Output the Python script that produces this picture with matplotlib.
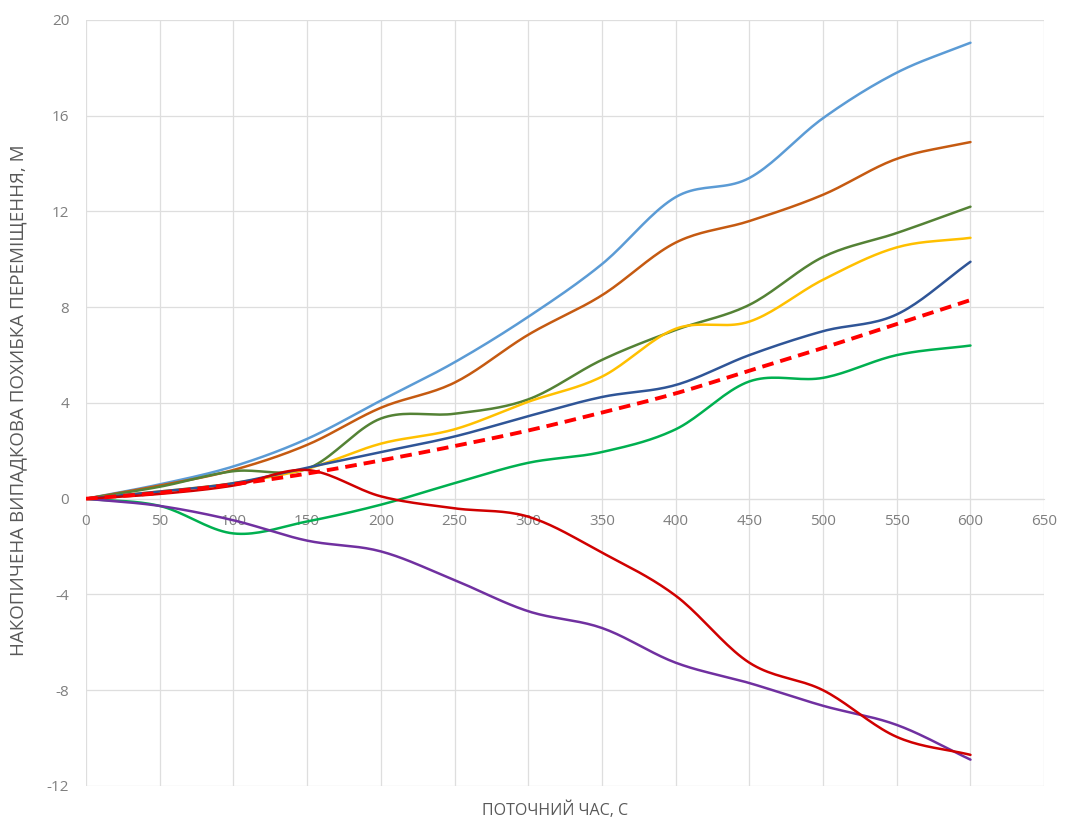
import numpy as np
import matplotlib.pyplot as plt

plt.rcParams['axes.unicode_minus'] = False

# time axis, s
t = [0, 50, 100, 150, 200, 250, 300, 350, 400, 450, 500, 550, 600]

# accumulated random displacement error, m
light_blue = [0, 0.6, 1.35, 2.5, 4.1, 5.7, 7.6, 9.8, 12.6, 13.4, 15.9, 17.8, 19.05]
orange = [0, 0.55, 1.2, 2.25, 3.8, 4.85, 6.85, 8.5, 10.7, 11.6, 12.7, 14.2, 14.9]
olive = [0, 0.5, 1.15, 1.25, 3.35, 3.55, 4.15, 5.8, 7.05, 8.1, 10.1, 11.1, 12.2]
yellow = [0, 0.3, 0.65, 1.25, 2.3, 2.9, 4.05, 5.1, 7.1, 7.4, 9.15, 10.5, 10.9]
dark_blue = [0, 0.3, 0.65, 1.3, 1.95, 2.6, 3.45, 4.25, 4.75, 6.0, 7.0, 7.7, 9.9]
trend = [0, 0.25, 0.6, 1.05, 1.6, 2.2, 2.85, 3.6, 4.4, 5.35, 6.3, 7.3, 8.3]
green = [0, -0.3, -1.45, -0.95, -0.25, 0.65, 1.5, 1.95, 2.9, 4.9, 5.05, 6.0, 6.4]
purple = [0, -0.3, -0.9, -1.75, -2.2, -3.4, -4.7, -5.4, -6.85, -7.7, -8.65, -9.45, -10.9]
dark_red = [0, 0.2, 0.55, 1.2, 0.1, -0.4, -0.75, -2.25, -4.05, -6.85, -8.0, -9.95, -10.7]


def smooth(x, y, n=20):
    # Catmull-Rom curve through the points, like a spreadsheet "smoothed line"
    x = np.asarray(x, float)
    y = np.asarray(y, float)
    px = np.concatenate([[2 * x[0] - x[1]], x, [2 * x[-1] - x[-2]]])
    py = np.concatenate([[2 * y[0] - y[1]], y, [2 * y[-1] - y[-2]]])
    s = np.linspace(0, 1, n, endpoint=False)
    xs, ys = [], []
    for i in range(1, len(px) - 2):
        for p, out in ((px, xs), (py, ys)):
            p0, p1, p2, p3 = p[i - 1], p[i], p[i + 1], p[i + 2]
            out.extend(0.5 * (2 * p1 + (-p0 + p2) * s
                              + (2 * p0 - 5 * p1 + 4 * p2 - p3) * s ** 2
                              + (-p0 + 3 * p1 - 3 * p2 + p3) * s ** 3))
    xs.append(x[-1])
    ys.append(y[-1])
    return xs, ys


fig = plt.figure(figsize=(10.67, 8.23), dpi=100)
ax = fig.add_axes([0.0806, 0.045, 0.898, 0.9307])

series = [
    (light_blue, '#5B9BD5'),
    (orange, '#C55A11'),
    (olive, '#548235'),
    (yellow, '#FFC000'),
    (dark_blue, '#2F5597'),
    (green, '#00B050'),
    (purple, '#7030A0'),
    (dark_red, '#D00000'),
]
for vals, col in series:
    xs, ys = smooth(t, vals)
    ax.plot(xs, ys, color=col, lw=1.8, solid_capstyle='round', zorder=3)

xs, ys = smooth(t, trend)
ax.plot(xs, ys, color='#FF0000', lw=2.8, dashes=(3, 1.8), zorder=4)

ax.set_xlim(0, 650)
ax.set_ylim(-12, 20)
ax.set_xticks(np.arange(0, 651, 50))
ax.set_yticks(np.arange(-12, 21, 4))
ax.grid(True, color='#DEDEDE', lw=0.9, zorder=0)

for side in ['top', 'right', 'left']:
    ax.spines[side].set_visible(False)
ax.spines['bottom'].set_position(('data', 0))
ax.spines['bottom'].set_color('#DEDEDE')
ax.tick_params(axis='both', length=0, colors='#7F7F7F', labelsize=11)
ax.tick_params(axis='x', pad=11)
ax.tick_params(axis='y', pad=12)
for lab in ax.get_xticklabels() + ax.get_yticklabels():
    lab.set_family('Open Sans')

fig.text(0.017, 0.514, 'НАКОПИЧЕНА ВИПАДКОВА ПОХИБКА ПЕРЕМІЩЕННЯ, М',
         rotation=90, ha='center', va='center', fontsize=13.5,
         color='#595959', family='Open Sans')
fig.text(0.52, 0.016, 'ПОТОЧНИЙ ЧАС, С', ha='center', va='center',
         fontsize=11.5, color='#595959', family='Open Sans')

fig.savefig('out.png', dpi=100)
